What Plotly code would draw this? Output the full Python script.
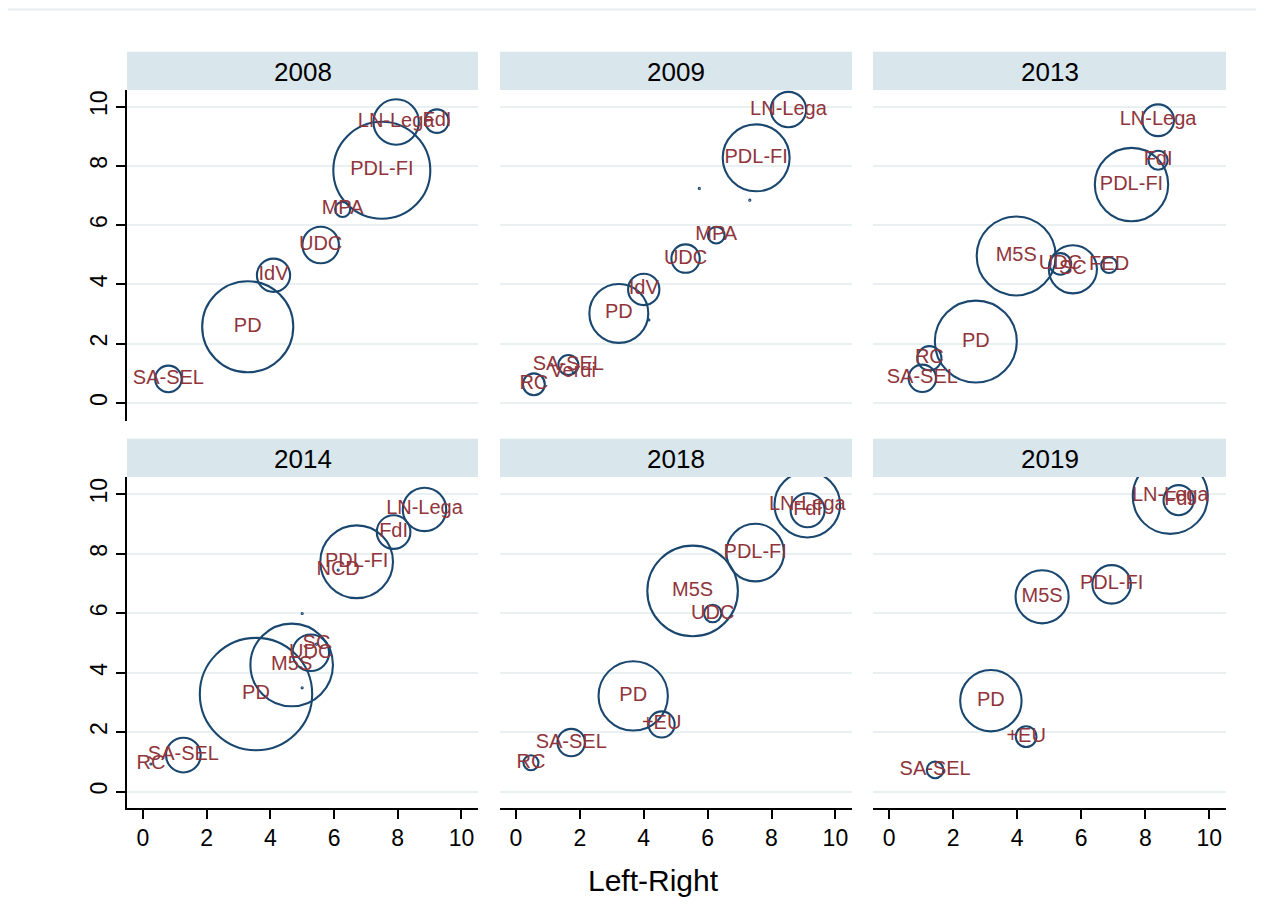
import plotly.graph_objects as go

# ---------------- data ----------------
years = ["2008", "2009", "2013", "2014", "2018", "2019"]

parties_2008 = ["SA-SEL", "PD", "IdV", "UDC", "MPA", "PDL-FI", "LN-Lega", "FdI"]
lr_2008 = [0.80, 3.29, 4.10, 5.58, 6.27, 7.50, 7.95, 9.23]
y_2008 = [0.81, 2.57, 4.31, 5.33, 6.53, 7.85, 9.48, 9.51]
w_2008 = [2.8, 33.0, 4.4, 5.3, 0.9, 37.4, 8.2, 2.2]

parties_2009 = ["RC", "SA-SEL", "Verdi", "PD", "IdV", "UDC", "MPA", "PDL-FI", "LN-Lega", "", "", ""]
lr_2009 = [0.56, 1.64, 1.79, 3.22, 4.00, 5.31, 6.27, 7.52, 8.53, 5.74, 7.32, 4.16]
y_2009 = [0.63, 1.28, 1.05, 3.02, 3.83, 4.87, 5.66, 8.27, 9.90, 7.24, 6.84, 2.80]
w_2009 = [1.9, 1.6, 0.005, 13.8, 3.9, 3.2, 1.1, 17.8, 5.0, 0.005, 0.005, 0.005]

parties_2013 = ["SA-SEL", "RC", "PD", "M5S", "UDC", "SC", "FED", "PDL-FI", "FdI", "LN-Lega"]
lr_2013 = [1.04, 1.26, 2.71, 3.97, 5.35, 5.74, 6.87, 7.57, 8.40, 8.40]
y_2013 = [0.83, 1.51, 2.07, 4.96, 4.69, 4.51, 4.65, 7.37, 8.19, 9.54]
w_2013 = [3.0, 2.3, 26.7, 24.8, 1.85, 9.2, 1.0, 21.4, 1.45, 4.0]

parties_2014 = ["RC", "SA-SEL", "PD", "M5S", "UDC", "SC", "PDL-FI", "NCD", "FdI", "LN-Lega", "", ""]
lr_2014 = [0.25, 1.27, 3.55, 4.67, 5.27, 5.45, 6.71, 6.13, 7.87, 8.84, 5.00, 5.00]
y_2014 = [0.93, 1.23, 3.28, 4.26, 4.67, 4.96, 7.73, 7.45, 8.73, 9.49, 5.99, 3.49]
w_2014 = [0.005, 4.8, 50.2, 27.1, 5.3, 0.005, 21.0, 0.005, 4.5, 7.5, 0.005, 0.005]

parties_2018 = ["RC", "SA-SEL", "PD", "+EU", "M5S", "UDC", "PDL-FI", "LN-Lega", "FdI"]
lr_2018 = [0.47, 1.73, 3.67, 4.56, 5.53, 6.16, 7.49, 9.12, 9.13]
y_2018 = [0.97, 1.65, 3.22, 2.26, 6.75, 5.99, 8.04, 9.65, 9.46]
w_2018 = [0.9, 3.0, 19.1, 2.7, 32.6, 1.2, 13.2, 17.1, 4.6]

parties_2019 = ["SA-SEL", "PD", "+EU", "M5S", "PDL-FI", "LN-Lega", "FdI"]
lr_2019 = [1.44, 3.18, 4.28, 4.78, 6.95, 8.78, 9.04]
y_2019 = [0.73, 3.06, 1.85, 6.55, 6.97, 9.93, 9.80]
w_2019 = [1.1, 15.0, 1.7, 11.2, 5.9, 22.4, 3.6]

tick_vals = [0, 2, 4, 6, 8, 10]
x_title = "Left-Right"

panels = [
    (parties_2008, lr_2008, y_2008, w_2008),
    (parties_2009, lr_2009, y_2009, w_2009),
    (parties_2013, lr_2013, y_2013, w_2013),
    (parties_2014, lr_2014, y_2014, w_2014),
    (parties_2018, lr_2018, y_2018, w_2018),
    (parties_2019, lr_2019, y_2019, w_2019),
]

# ---------------- layout geometry (screen px) ----------------
W, H, OFF = 1248, 907, 8


def fx(sx):
    return (sx - OFF) / W


def fy(sy):
    return 1 - (sy - OFF) / H


col_px = [(127, 478), (500, 852), (873, 1226)]
row_px = [(90, 421), (477, 808)]
head_px = [(51.7, 90), (438.7, 477)]
y_ranges = [[-0.61, 10.56], [-0.55, 10.58]]
x_range = [-0.5, 10.52]

NAVY = "#1a476f"
MAROON = "#90353b"
GRID = "#e8f0f2"
HEAD = "#d9e6ec"
FONT = "Liberation Sans, Arial, Helvetica, sans-serif"

fig = go.Figure()
layout = dict(
    width=W, height=H,
    margin=dict(l=0, r=0, t=0, b=0),
    paper_bgcolor="white", plot_bgcolor="white",
    showlegend=False,
    font=dict(family=FONT, color="black"),
)
shapes = []
annotations = []

for i, (year, (names, xs, ys, ws)) in enumerate(zip(years, panels)):
    r, c = divmod(i, 3)
    k = i + 1
    xa = "xaxis" if k == 1 else f"xaxis{k}"
    ya = "yaxis" if k == 1 else f"yaxis{k}"
    xref = "x" if k == 1 else f"x{k}"
    yref = "y" if k == 1 else f"y{k}"
    bottom = (r == 1)
    left = (c == 0)
    layout[xa] = dict(
        domain=[fx(col_px[c][0]), fx(col_px[c][1])],
        range=x_range, anchor=yref,
        tickmode="array", tickvals=tick_vals,
        showticklabels=bottom, showline=bottom,
        ticks="outside" if bottom else "",
        ticklen=9, tickwidth=1.5, tickcolor="black",
        linecolor="black", linewidth=1.5,
        tickfont=dict(size=23, color="black", family=FONT),
        showgrid=False, zeroline=False, fixedrange=True,
    )
    layout[ya] = dict(
        domain=[fy(row_px[r][1]), fy(row_px[r][0])],
        range=y_ranges[r], anchor=xref,
        tickmode="array", tickvals=tick_vals,
        showticklabels=left, showline=left,
        ticks="outside" if left else "",
        ticklen=9, tickwidth=1.5, tickcolor="black",
        linecolor="black", linewidth=1.5,
        tickangle=-90,
        tickfont=dict(size=23, color="black", family=FONT),
        showgrid=True, gridcolor=GRID, gridwidth=2.2,
        zeroline=False, fixedrange=True,
    )
    fig.add_trace(go.Scatter(
        x=xs, y=ys, text=names,
        mode="markers+text", textposition="middle center",
        xaxis=xref, yaxis=yref,
        marker=dict(
            size=ws, sizemode="area", sizeref=2 / 15.86 ** 2, sizemin=0,
            color="rgba(0,0,0,0)", opacity=1,
            line=dict(color=NAVY, width=2.1),
        ),
        textfont=dict(color=MAROON, size=20, family=FONT),
        hoverinfo="skip",
    ))
    # panel header strip
    shapes.append(dict(
        type="rect", xref="paper", yref="paper",
        x0=fx(col_px[c][0]), x1=fx(col_px[c][1]),
        y0=fy(head_px[r][1]), y1=fy(head_px[r][0]),
        fillcolor=HEAD, line=dict(width=0), layer="below",
    ))
    annotations.append(dict(
        xref="paper", yref="paper",
        x=fx((col_px[c][0] + col_px[c][1]) / 2),
        y=fy((head_px[r][0] + head_px[r][1]) / 2 + 1.5),
        text=year, showarrow=False,
        xanchor="center", yanchor="middle",
        font=dict(size=26, color="black", family=FONT),
    ))

# x-axis title
annotations.append(dict(
    xref="paper", yref="paper", x=fx(653), y=fy(880),
    text=x_title, showarrow=False, xanchor="center", yanchor="middle",
    font=dict(size=30, color="black", family=FONT),
))

# faint outer frame (top edge)
shapes.append(dict(
    type="line", xref="paper", yref="paper",
    x0=0, x1=1, y0=fy(9.5), y1=fy(9.5),
    line=dict(color="#e6eef0", width=2),
))

layout["shapes"] = shapes
layout["annotations"] = annotations
fig.update_layout(**layout)

fig.write_html("out.html")
